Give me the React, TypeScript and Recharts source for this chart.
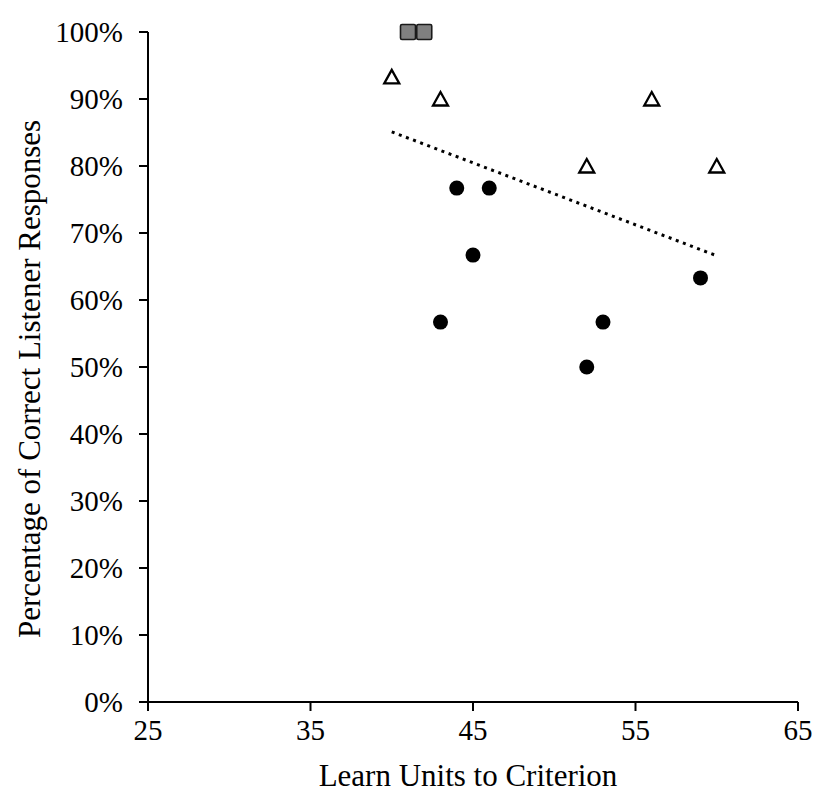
import { ScatterChart, Scatter, XAxis, YAxis } from 'recharts';

// Learn units to criterion (x) vs percentage of correct listener responses (y)
const squareX = [41, 42];
const squareY = [100, 100];

const triangleX = [40, 43, 52, 56, 60];
const triangleY = [93.3, 90, 80, 90, 80];

const circleX = [44, 46, 45, 43, 52, 53, 59];
const circleY = [76.7, 76.7, 66.7, 56.7, 50, 56.7, 63.3];

// dotted trend line endpoints
const trendX = [40, 60];
const trendY = [85.1, 66.6];

const xTicks = [25, 35, 45, 55, 65];
const yTicks = [0, 10, 20, 30, 40, 50, 60, 70, 80, 90, 100];

const toPoints = (xs: number[], ys: number[]) => xs.map((x, i) => ({ x, y: ys[i] }));

const squares = toPoints(squareX, squareY);
const triangles = toPoints(triangleX, triangleY);
const circles = toPoints(circleX, circleY);
const trend = toPoints(trendX, trendY);

const FONT = '"Liberation Serif", "Times New Roman", serif';

const SquareShape = (p: any) => (
  <rect x={p.cx - 7.5} y={p.cy - 7.5} width={15} height={15} rx={1.5} fill="#808080" stroke="#1a1a1a" strokeWidth={1.6} />
);

const TriangleShape = (p: any) => (
  <polygon
    points={`${p.cx},${p.cy - 7} ${p.cx - 7.5},${p.cy + 6.5} ${p.cx + 7.5},${p.cy + 6.5}`}
    fill="#fff"
    stroke="#000"
    strokeWidth={2.3}
  />
);

const CircleShape = (p: any) => <circle cx={p.cx} cy={p.cy} r={7.5} fill="#000" />;

const YLabel = (props: any) => {
  const { x, y, height } = props.viewBox;
  const cy = y + height / 2 + 12;
  const cx = x + 29;
  return (
    <text x={cx} y={cy} transform={`rotate(-90, ${cx}, ${cy})`} textAnchor="middle" dominantBaseline="central"
      fontFamily={FONT} fontSize={31} fill="#000">
      Percentage of Correct Listener Responses
    </text>
  );
};

const XLabel = (props: any) => {
  const { x, y, width } = props.viewBox;
  return (
    <text x={x + width / 2 - 5} y={y + 84} textAnchor="middle" fontFamily={FONT} fontSize={31} fill="#000">
      Learn Units to Criterion
    </text>
  );
};

export default function App() {
  const tickStyle = { fill: '#000', fontSize: 29, fontFamily: FONT };
  const lineStyle = { stroke: '#000', strokeWidth: 2 };
  return (
    <div style={{ position: 'fixed', left: 0, top: 0, width: 818, height: 795, background: '#fff' }}>
      <ScatterChart width={818} height={795} margin={{ top: 32, right: 20, bottom: 0, left: 0 }}>
        <XAxis
          type="number"
          dataKey="x"
          domain={[25, 65]}
          ticks={xTicks}
          interval={0}
          tickSize={9}
          tickMargin={8}
          height={93}
          axisLine={lineStyle}
          tickLine={lineStyle}
          tick={tickStyle}
          label={<XLabel />}
        />
        <YAxis
          type="number"
          dataKey="y"
          domain={[0, 100]}
          ticks={yTicks}
          interval={0}
          tickSize={9}
          tickMargin={16}
          width={148}
          axisLine={lineStyle}
          tickLine={lineStyle}
          tick={tickStyle}
          tickFormatter={(v: number) => `${v}%`}
          label={<YLabel />}
        />
        <Scatter
          data={trend}
          line={{ stroke: '#000', strokeWidth: 3, strokeDasharray: '3 4.6' }}
          shape={() => <g />}
          isAnimationActive={false}
          legendType="none"
        />
        <Scatter data={circles} shape={CircleShape} isAnimationActive={false} />
        <Scatter data={triangles} shape={TriangleShape} isAnimationActive={false} />
        <Scatter data={squares} shape={SquareShape} isAnimationActive={false} />
      </ScatterChart>
    </div>
  );
}
